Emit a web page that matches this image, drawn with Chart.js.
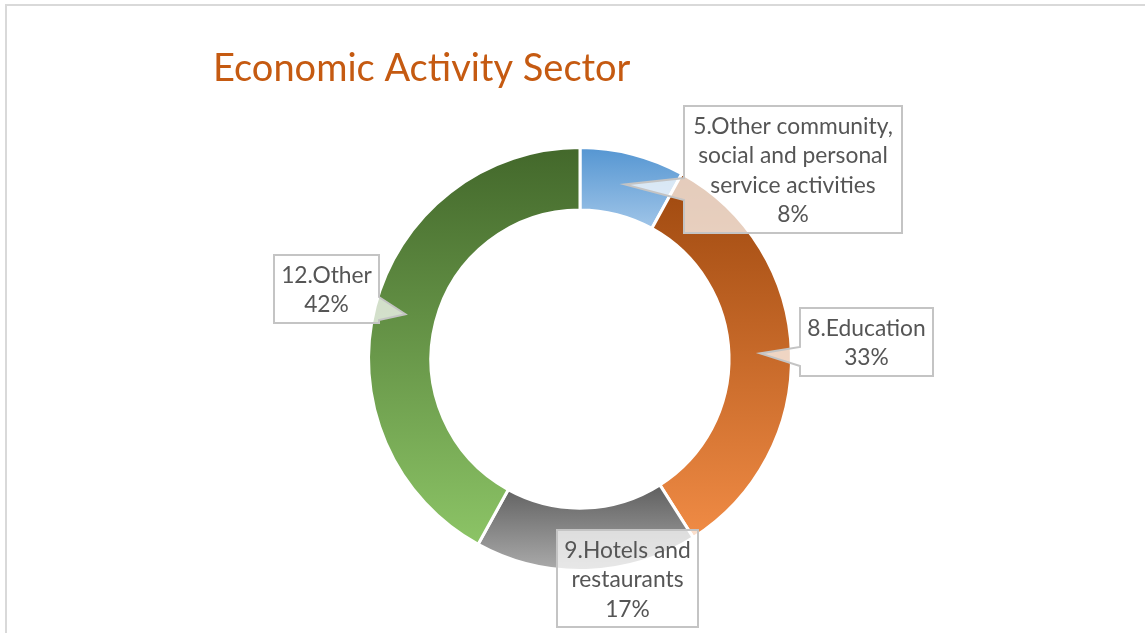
<!DOCTYPE html>
<html>
<head>
<meta charset="utf-8">
<title>Economic Activity Sector</title>
<script src="https://cdn.jsdelivr.net/npm/chart.js@4.4.1/dist/chart.umd.min.js"></script>
<style>
  html, body { margin: 0; padding: 0; background: #ffffff; }
  canvas { display: block; }
</style>
</head>
<body>
<canvas id="sector-chart" width="1145" height="633"></canvas>
<script>
// Share of respondents by economic activity sector (percent)
const categories = ['5.Other community, social and personal service activities', '8.Education', '9.Hotels and restaurants', '12.Other'];
const shares = [8, 33, 17, 42];
const labelLines = [
    ['5.Other community,', 'social and personal', 'service activities'],
    ['8.Education'],
    ['9.Hotels and', 'restaurants'],
    ['12.Other']
];

// Each slice is shaded top to bottom, dark to light
const gradientTop = ['#5596D2', '#9E480E', '#5F5F5F', '#43682B'];
const gradientBottom = ['#A0C5E8', '#F08B45', '#ABABAB', '#8CC466'];

// Callout boxes, placed relative to the centre of their slice
const callouts = [
    { dx: 59, dy: -78, w: 218, h: 127, side: 'left', b0: 72, b1: 94 },
    { dx: 40, dy: -45, w: 133, h: 68, side: 'left', b0: 39, b1: 58 },
    { dx: -29, dy: -9, w: 141, h: 97, side: null },
    { dx: -131, dy: -59, w: 105, h: 68, side: 'right', b0: 42, b1: 65 }
];

function sliceGradient(ctx) {
    const i = ctx.dataIndex;
    const el = ctx.element;
    if (!el || !el.outerRadius) return gradientBottom[i];
    const { x, y, startAngle, endAngle, innerRadius, outerRadius } = el;
    const ys = [];
    [innerRadius, outerRadius].forEach(r => {
        ys.push(y + r * Math.sin(startAngle), y + r * Math.sin(endAngle));
    });
    // the ring reaches its highest / lowest point at +-90deg
    for (let k = -3; k <= 3; k++) {
        const a = Math.PI / 2 + k * Math.PI;
        if (a > startAngle && a < endAngle) ys.push(y + outerRadius * Math.sin(a));
    }
    const g = ctx.chart.ctx.createLinearGradient(0, Math.min(...ys), 0, Math.max(...ys));
    g.addColorStop(0, gradientTop[i]);
    g.addColorStop(1, gradientBottom[i]);
    return g;
}

const framePlugin = {
    id: 'frame',
    beforeDraw(chart) {
        const c = chart.ctx;
        c.save();
        c.fillStyle = '#ffffff';
        c.fillRect(0, 0, chart.width, chart.height);
        c.strokeStyle = '#D9D9D9';
        c.lineWidth = 2;
        c.beginPath();
        c.moveTo(6, chart.height);
        c.lineTo(6, 5);
        c.lineTo(chart.width, 5);
        c.stroke();
        c.restore();
    }
};

const calloutPlugin = {
    id: 'callouts',
    afterDatasetsDraw(chart) {
        const c = chart.ctx;
        const arcs = chart.getDatasetMeta(0).data;
        c.save();
        arcs.forEach((arc, i) => {
            const tip = arc.getCenterPoint();
            const box = callouts[i];
            const x0 = Math.round(tip.x + box.dx), y0 = Math.round(tip.y + box.dy);
            const x1 = x0 + box.w, y1 = y0 + box.h;

            c.beginPath();
            c.moveTo(x0, y0);
            c.lineTo(x1, y0);
            if (box.side === 'right') {
                c.lineTo(x1, y0 + box.b0);
                c.lineTo(tip.x, tip.y);
                c.lineTo(x1, y0 + box.b1);
            }
            c.lineTo(x1, y1);
            c.lineTo(x0, y1);
            if (box.side === 'left') {
                c.lineTo(x0, y0 + box.b1);
                c.lineTo(tip.x, tip.y);
                c.lineTo(x0, y0 + box.b0);
            }
            c.closePath();
            c.fillStyle = 'rgba(255,255,255,0.72)';
            c.fill();
            c.strokeStyle = '#C4C4C4';
            c.lineWidth = 2;
            c.stroke();

            const lines = labelLines[i].concat(shares[i] + '%');
            const lh = 29.5;
            const cx = (x0 + x1) / 2, cy = (y0 + y1) / 2;
            c.fillStyle = '#555555';
            c.font = '22.8px Lato';
            c.textAlign = 'center';
            c.textBaseline = 'alphabetic';
            lines.forEach((t, k) => {
                c.fillText(t, cx, cy + (k - (lines.length - 1) / 2) * lh + 8.5);
            });
        });
        c.restore();
    }
};

const chart = new Chart(document.getElementById('sector-chart'), {
    type: 'doughnut',
    data: {
        labels: categories,
        datasets: [{
            data: shares,
            backgroundColor: sliceGradient,
            borderColor: '#ffffff',
            borderWidth: 3
        }]
    },
    options: {
        responsive: false,
        animation: false,
        cutout: '70.5%',
        layout: { padding: { left: 213, right: 198, top: 0, bottom: 61 } },
        plugins: {
            legend: { display: false },
            tooltip: { enabled: false },
            title: {
                display: true,
                text: 'Economic Activity Sector',
                align: 'start',
                color: '#C55A11',
                font: { family: 'Lato', size: 38, weight: 'normal', lineHeight: 1.2 },
                padding: { top: 45.5, bottom: 55 }
            }
        }
    },
    plugins: [framePlugin, calloutPlugin]
});

// second pass so the gradients can use the laid-out slice geometry
chart.update();
</script>
</body>
</html>
